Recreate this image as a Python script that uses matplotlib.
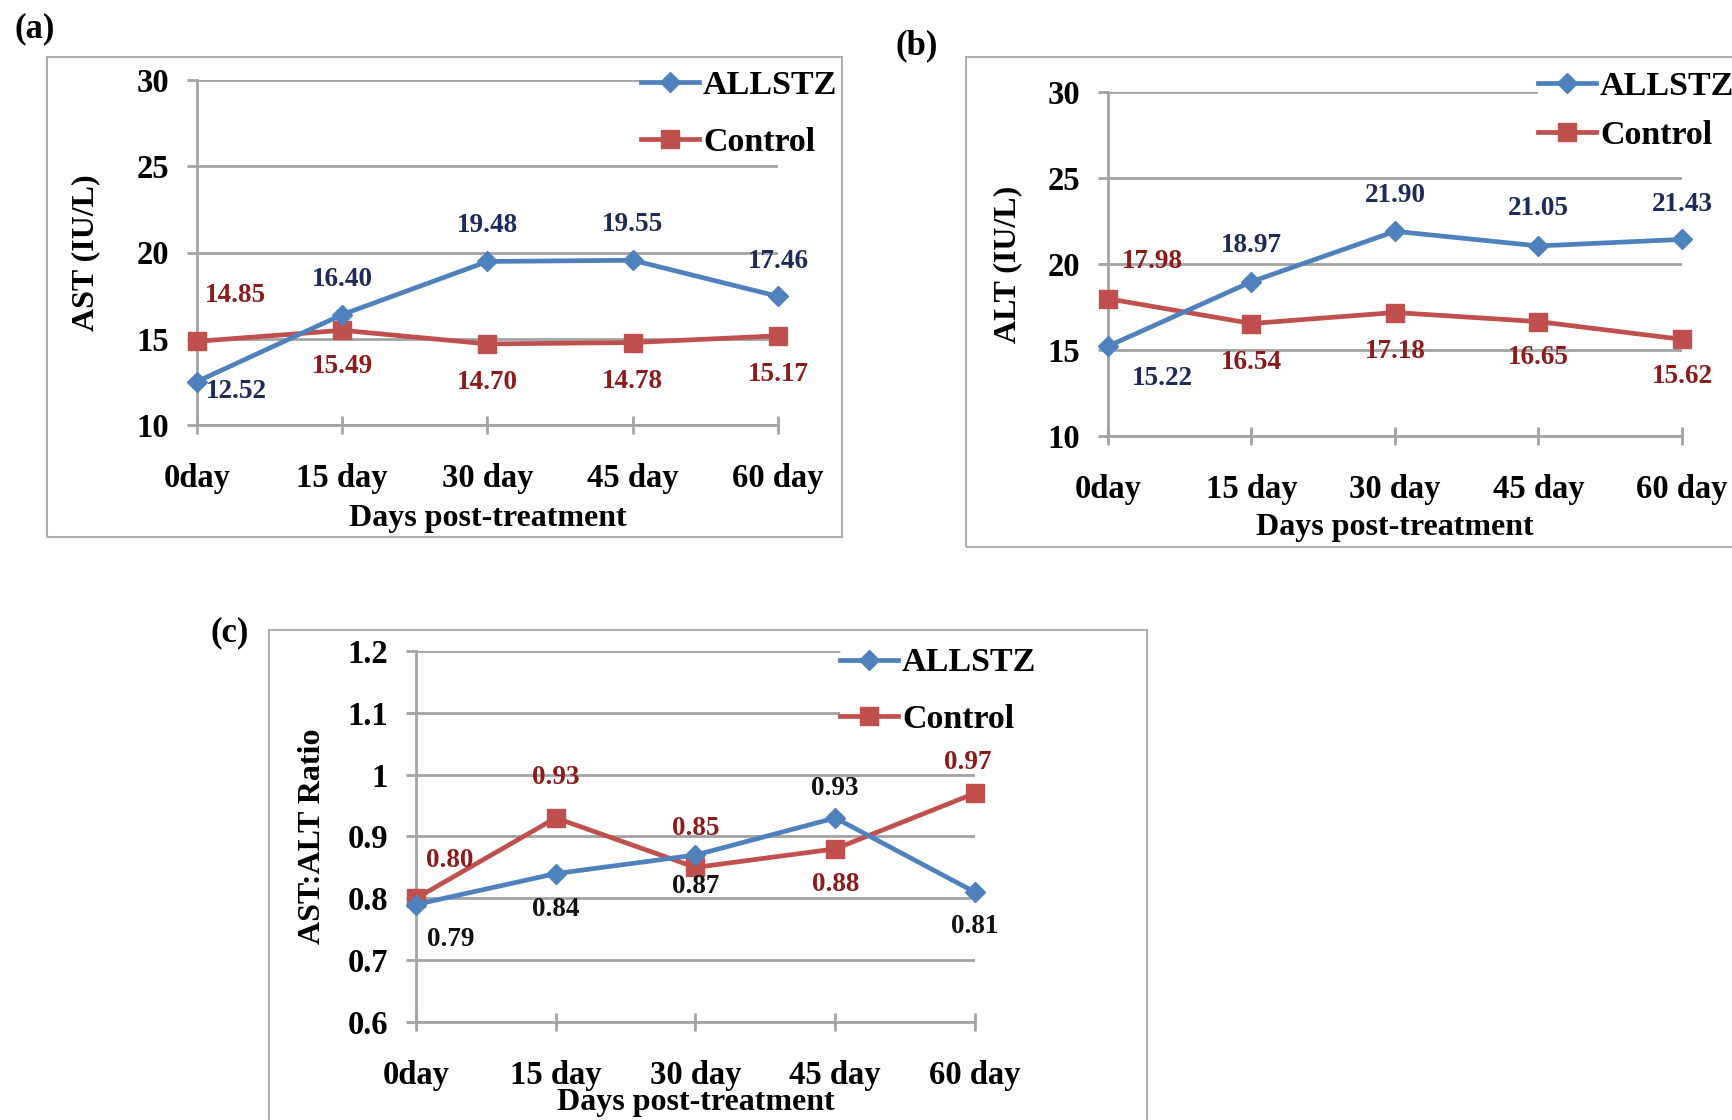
import matplotlib.pyplot as plt
from matplotlib.patches import Rectangle
from matplotlib.ticker import FuncFormatter

# Liver enzyme levels over the treatment period
days = ['0day', '15 day', '30 day', '45 day', '60 day']

ast_allstz = [12.52, 16.40, 19.48, 19.55, 17.46]
ast_control = [14.85, 15.49, 14.70, 14.78, 15.17]

alt_allstz = [15.22, 18.97, 21.90, 21.05, 21.43]
alt_control = [17.98, 16.54, 17.18, 16.65, 15.62]

ratio_allstz = [0.79, 0.84, 0.87, 0.93, 0.81]
ratio_control = [0.80, 0.93, 0.85, 0.88, 0.97]

BLUE = '#4f81bd'
RED = '#c0504d'
NAVY = '#1c2b5a'
DARKRED = '#8e1b1b'
GRID = '#a3a3a3'

W, H = 1733, 1120

plt.rcParams['font.family'] = ['Liberation Serif', 'DejaVu Serif']
plt.rcParams['font.weight'] = 'bold'
plt.rcParams['axes.labelweight'] = 'bold'


def px_rect(l, t, r, b):
    # pixel box (top-left origin) -> figure fraction rect
    return [l / W, 1 - b / H, (r - l) / W, (b - t) / H]


def draw_panel(ax, s1, s2, ylim, step, ylabel, off1, off2, col1, col2, fmt,
               ylab_x, xlab_y, leg_xy, leg_space):
    x = range(len(days))
    ax.plot(x, s1, color=BLUE, lw=3.4, marker='D', ms=10, mec=BLUE, label='ALLSTZ',
            zorder=4, clip_on=False)
    ax.plot(x, s2, color=RED, lw=3.4, marker='s', ms=12.5, mec=RED, label='Control',
            zorder=3, clip_on=False)

    for i, v in enumerate(s1):
        ax.annotate(fmt(v), (i, v), xytext=off1[i], textcoords='offset points',
                    ha='center', va='center', fontsize=19.5, color=col1, zorder=5)
    for i, v in enumerate(s2):
        ax.annotate(fmt(v), (i, v), xytext=off2[i], textcoords='offset points',
                    ha='center', va='center', fontsize=19.5, color=col2, zorder=5)

    ax.set_xlim(0, len(days) - 1)
    ax.set_ylim(*ylim)
    n = int(round((ylim[1] - ylim[0]) / step))
    ax.set_yticks([ylim[0] + k * step for k in range(n + 1)])
    ax.yaxis.set_major_formatter(FuncFormatter(lambda v, p: '%g' % round(v, 2)))
    ax.set_xticks(list(x))
    ax.set_xticklabels(days)

    ax.grid(axis='y', color=GRID, lw=2)
    ax.set_axisbelow(True)
    for side in ['top', 'right']:
        ax.spines[side].set_visible(False)
    for side in ['left', 'bottom']:
        ax.spines[side].set_color(GRID)
        ax.spines[side].set_linewidth(2)

    ax.tick_params(axis='y', direction='out', length=7, width=2, color=GRID,
                   labelsize=23.5, pad=13)
    ax.tick_params(axis='x', direction='inout', length=13, width=2, color=GRID,
                   labelsize=23.5, pad=21)

    ax.set_ylabel(ylabel, fontsize=23, va='center')
    ax.yaxis.set_label_coords(ylab_x, 0.5)
    ax.set_xlabel('Days post-treatment', fontsize=23, va='center')
    ax.xaxis.set_label_coords(0.5, xlab_y)

    leg = ax.legend(loc='center left', bbox_to_anchor=(leg_xy[0] / W, 1 - leg_xy[1] / H),
                    bbox_transform=ax.figure.transFigure, fontsize=24.5, frameon=True,
                    borderpad=0, borderaxespad=0, handlelength=1.7, handletextpad=0.12,
                    labelspacing=leg_space)
    leg.get_frame().set_edgecolor('none')
    leg.get_frame().set_facecolor('white')
    leg.get_frame().set_alpha(1)


fig = plt.figure(figsize=(W / 100, H / 100), dpi=100)

# outer frames around each panel
for l, t, r, b in [(47, 57, 842, 537), (966, 57, 1760, 547), (269, 630, 1147, 1140)]:
    fig.add_artist(Rectangle((l / W, 1 - b / H), (r - l) / W, (b - t) / H,
                             transform=fig.transFigure, fill=False,
                             edgecolor='#b0b0b0', lw=1.5))

two = lambda v: '%.2f' % v

ax_a = fig.add_axes(px_rect(197, 80, 778, 425))
draw_panel(ax_a, ast_allstz, ast_control, (10, 30), 5, 'AST (IU/L)',
           [(28, -7), (0, 25), (0, 26), (0, 26), (0, 25)],
           [(28, 33), (0, -26), (0, -28), (0, -28), (0, -28)],
           NAVY, DARKRED, two, -0.191, -0.27, (641, 114), 0.74)

ax_b = fig.add_axes(px_rect(1108, 92, 1682, 436))
draw_panel(ax_b, alt_allstz, alt_control, (10, 30), 5, 'ALT (IU/L)',
           [(39, -23), (0, 26), (0, 26), (0, 27), (0, 25)],
           [(32, 27), (0, -28), (0, -28), (0, -26), (0, -27)],
           NAVY, DARKRED, two, -0.175, -0.267, (1538, 111), 0.54)

ax_c = fig.add_axes(px_rect(416, 651, 975, 1022))
draw_panel(ax_c, ratio_allstz, ratio_control, (0.6, 1.2), 0.1, 'AST:ALT Ratio',
           [(25, -25), (0, -26), (0, -23), (0, 21), (0, -25)],
           [(24, 27), (0, 29), (0, 28), (0, -26), (-5, 22)],
           '#111111', DARKRED, two, -0.185, -0.218, (840, 691), 0.74)

for txt, (px, py) in [('(a)', (35, 29)), ('(b)', (917, 46)), ('(c)', (230, 633))]:
    fig.text(px / W, 1 - py / H, txt, fontsize=25, ha='center', va='center')

fig.savefig('out.png', dpi=100)
